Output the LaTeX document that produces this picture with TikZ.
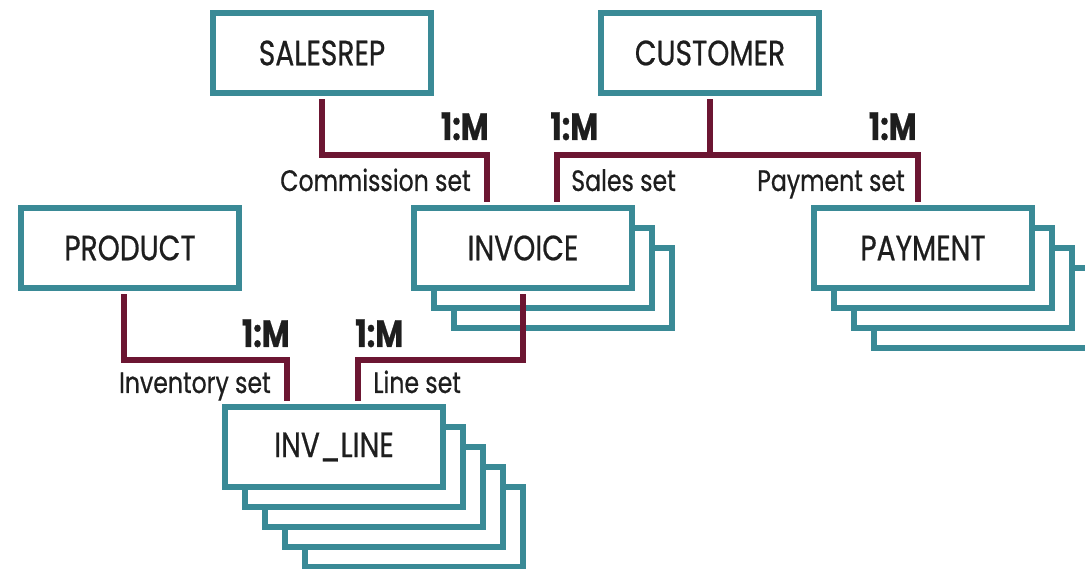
\documentclass[tikz,border=0pt]{standalone}
\usepackage{fontspec}
\setmainfont{Poppins}[FakeStretch=0.8, FakeBold=0.6]
\usepackage{tikz}

\definecolor{boxteal}{RGB}{58,138,150}
\definecolor{linkred}{RGB}{108,22,50}
\definecolor{inkgray}{RGB}{30,30,30}

\tikzset{
  entity/.style={draw=boxteal, line width=4.3pt, fill=white, text=inkgray,
    minimum width=5.45cm, minimum height=2.02cm, inner sep=0pt,
    font=\fontsize{25}{27}\selectfont},
  link/.style={draw=linkred, line width=3.6pt, shorten <=2.1pt, shorten >=2.1pt},
  card/.style={inner sep=0pt, text=inkgray, font=\bfseries\fontsize{27}{29}\selectfont},
  setname/.style={inner sep=0pt, text=inkgray, font=\fontsize{21}{23}\selectfont}
}

\begin{document}
\begin{tikzpicture}[x=0.025cm, y=-0.025cm]
        \useasboundingbox (0,0) rectangle (1085,569);

        % owners on top
        \node[entity] (salesrep) at (322,53) {SALESREP};
        \node[entity] (customer) at (710,53) {CUSTOMER};
        \node[entity] (product) at (130,248) {PRODUCT};

        % invoice stack
        \node[entity] (invoice-2) at (563,288) {};
        \node[entity] (invoice-1) at (543,268) {};
        \node[entity] (invoice) at (523,248) {INVOICE};

        % payment stack
        \node[entity] (payment-3) at (983,308) {};
        \node[entity] (payment-2) at (963,288) {};
        \node[entity] (payment-1) at (943,268) {};
        \node[entity] (payment) at (923,248) {PAYMENT};

        % inv_line stack
        \node[entity] (invline-4) at (414,527) {};
        \node[entity] (invline-3) at (394,507) {};
        \node[entity] (invline-2) at (374,487) {};
        \node[entity] (invline-1) at (354,467) {};
        \node[entity] (invline) at (334,447) {INV\_LINE};

        \coordinate (topbus) at (0,155);
        \coordinate (lowbus) at (0,360);
        \coordinate (commdrop) at ([shift={(-36,0)}]invoice.north);
        \coordinate (salesdrop) at ([shift={(34,0)}]invoice.north);
        \coordinate (paydrop) at ([shift={(-5,0)}]payment.north);
        \coordinate (prodtap) at ([shift={(-6,0)}]product.south);
        \coordinate (invdrop) at ([shift={(-47,0)}]invline.north);
        \coordinate (linedrop) at ([shift={(24,0)}]invline.north);

        \draw[link] (salesrep.south) |- (topbus -| commdrop) -- (commdrop);
        \draw[link, shorten >=0pt] (customer.south) -- (customer.south |- topbus);
        \draw[link] (salesdrop) |- (topbus -| paydrop) -- (paydrop);
        \draw[link] (prodtap) |- (lowbus -| invdrop) -- (invdrop);
        \draw[link] (invoice.south) |- (lowbus -| linedrop) -- (linedrop);

        \node[card, anchor=base east] (comm-card) at (489,140) {1:M};
        \node[card, anchor=base west] (sales-card) at (550,140) {1:M};
        \node[card, anchor=base east] (pay-card) at (917,140) {1:M};
        \node[setname, anchor=base east] (comm-set) at (471,191) {Commission set};
        \node[setname, anchor=base west] (sales-set) at (571,191) {Sales set};
        \node[setname, anchor=base east] (pay-set) at (905,191) {Payment set};

        \node[card, anchor=base east] (inv-card) at (290,347) {1:M};
        \node[card, anchor=base west] (line-card) at (355,347) {1:M};
        \node[setname, anchor=base east] (inv-set) at (271,393) {Inventory set};
        \node[setname, anchor=base west] (line-set) at (373,393) {Line set};
\end{tikzpicture}
\end{document}
